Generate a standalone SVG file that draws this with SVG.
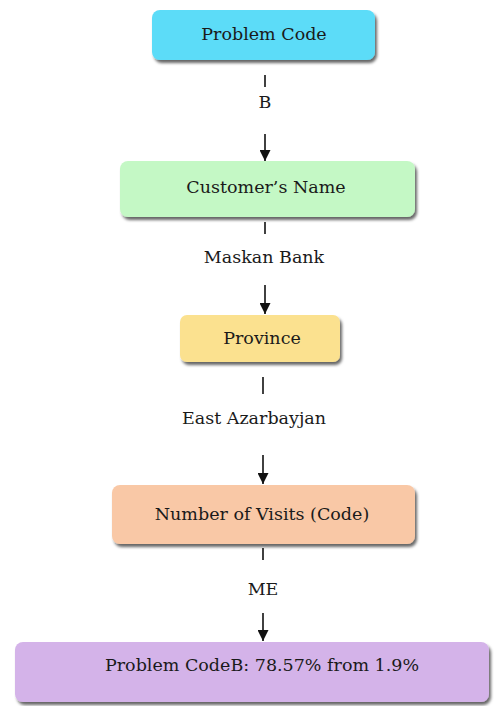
<svg xmlns="http://www.w3.org/2000/svg" width="501" height="706" viewBox="0 0 501 706">
  <style>
    .node { stroke: none; filter: url(#shadow); }
    .label { font-family: "DejaVu Serif", "Liberation Serif", serif; font-size: 17.5px; fill: #1a1a1a; text-anchor: middle; }
    .tick { stroke: #111; stroke-width: 1.6; }
    .arrow { stroke: #111; stroke-width: 1.6; fill: none; marker-end: url(#head); }
  </style>
  <defs>
    <filter id="shadow" x="-10%" y="-20%" width="120%" height="150%">
      <feDropShadow dx="2" dy="3" stdDeviation="1.6" flood-color="#000" flood-opacity="0.6"/>
    </filter>
    <marker id="head" viewBox="0 0 10 10" refX="10" refY="5" markerWidth="11" markerHeight="11" markerUnits="userSpaceOnUse" orient="auto">
      <path d="M0,0 L10,5 L0,10 Z" fill="#111"/>
    </marker>
  </defs>
  <rect width="501" height="706" fill="#ffffff"/>

  <g id="n1">
    <rect class="node" x="152" y="10" width="223" height="50" rx="8" fill="#5cdcf8"/>
    <text class="label" x="264" y="40">Problem Code</text>
  </g>
  <g id="n2">
    <rect class="node" x="120" y="161" width="295" height="56" rx="8" fill="#c4f8c5"/>
    <text class="label" x="266" y="193">Customer’s Name</text>
  </g>
  <g id="n3">
    <rect class="node" x="180" y="315" width="160" height="47" rx="7" fill="#fbe18f"/>
    <text class="label" x="262" y="344">Province</text>
  </g>
  <g id="n4">
    <rect class="node" x="112" y="485" width="303" height="59" rx="8" fill="#f9c8a6"/>
    <text class="label" x="262" y="520">Number of Visits (Code)</text>
  </g>
  <g id="n5">
    <rect class="node" x="15" y="642" width="474" height="60" rx="8" fill="#d4b3e9"/>
    <text class="label" x="262" y="671">Problem CodeB: 78.57% from 1.9%</text>
  </g>

  <g id="connectors">
    <line class="tick" x1="265" y1="75" x2="265" y2="87"/>
    <text class="label" x="265" y="108">B</text>
    <line class="arrow" x1="265" y1="134" x2="265" y2="161"/>

    <line class="tick" x1="265" y1="222" x2="265" y2="234"/>
    <text class="label" x="264" y="263">Maskan Bank</text>
    <line class="arrow" x1="265" y1="285" x2="265" y2="314"/>

    <line class="tick" x1="263" y1="377" x2="263" y2="394"/>
    <text class="label" x="254" y="424">East Azarbayjan</text>
    <line class="arrow" x1="263" y1="455" x2="263" y2="484"/>

    <line class="tick" x1="263" y1="548" x2="263" y2="560"/>
    <text class="label" x="263" y="595">ME</text>
    <line class="arrow" x1="263" y1="613" x2="263" y2="641"/>
  </g>
</svg>
